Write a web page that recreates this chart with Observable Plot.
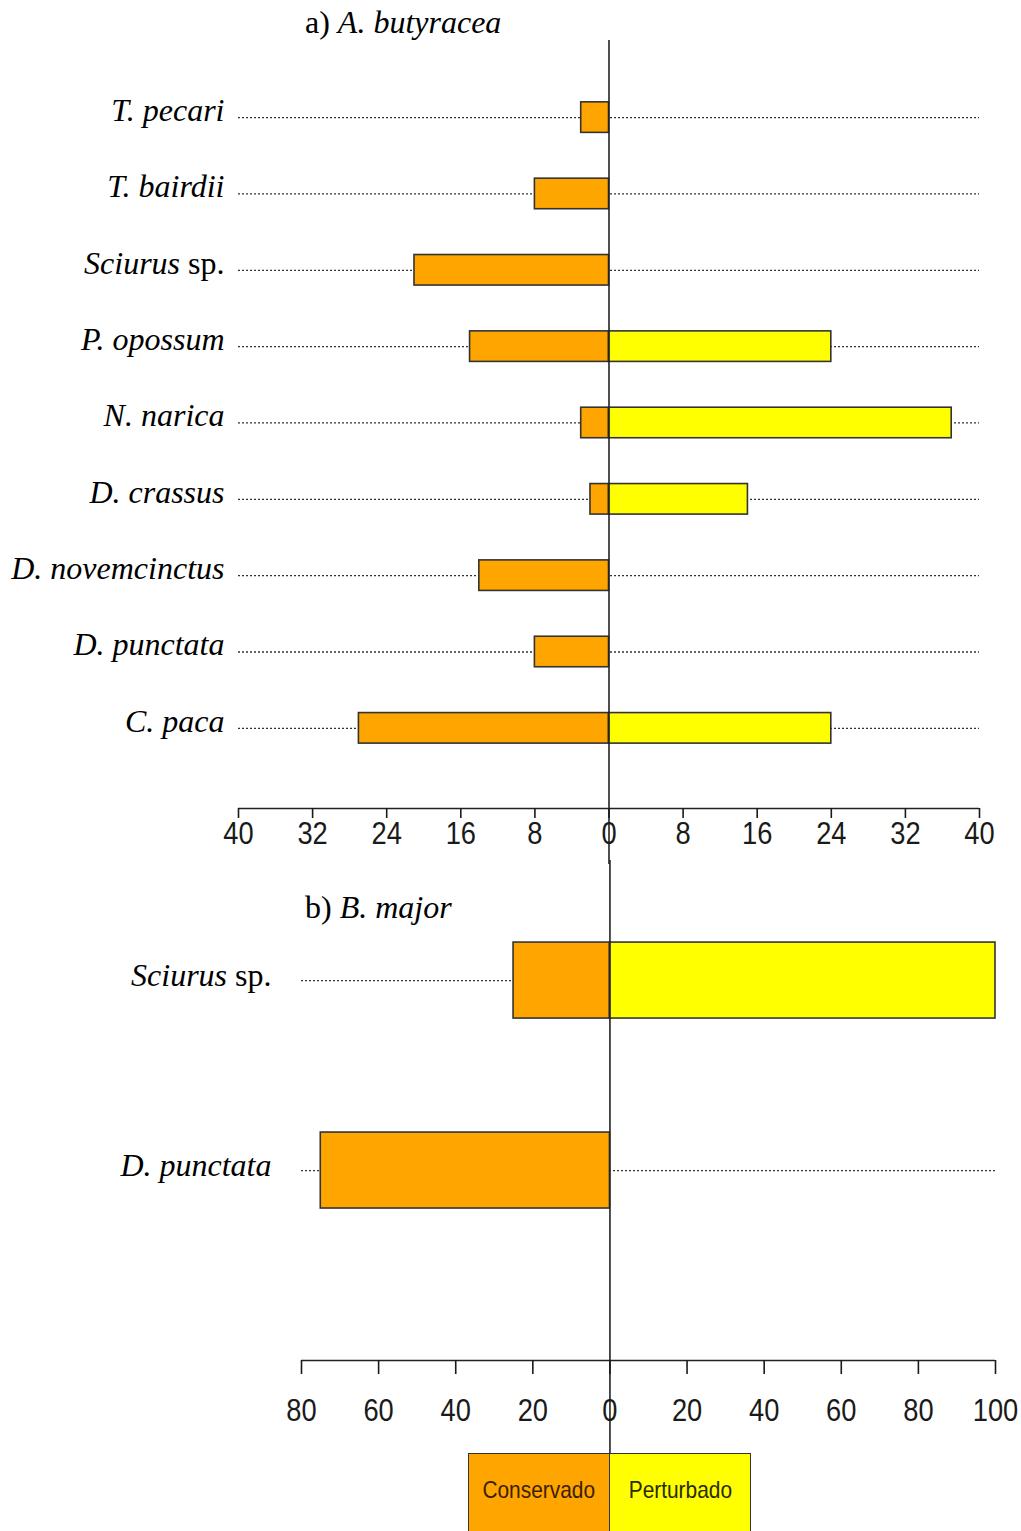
<!DOCTYPE html>
<html><head><meta charset="utf-8">
<script src="https://cdn.jsdelivr.net/npm/d3@7"></script>
<script src="https://cdn.jsdelivr.net/npm/@observablehq/plot@0.6"></script>
<style>
body{margin:0;background:#fff;overflow:hidden}
#wrap{position:relative;width:1021px;height:1531px;overflow:hidden;background:#fff}
.panel{position:absolute;left:0}
.title{position:absolute;font-family:"Liberation Serif","Times New Roman",serif;font-size:32px;line-height:32px;color:#000;white-space:nowrap}
.title i{font-style:italic}
#legend{position:absolute;left:468px;top:1453px;width:283px;height:95px;display:flex;border:1.5px solid #333;box-sizing:border-box}
#legend div{flex:1;display:flex;align-items:flex-start;justify-content:center;padding-top:24px;font-family:"Liberation Sans",Arial,sans-serif;font-size:24px;line-height:24px}
#legend div span{display:inline-block;transform:scaleX(0.87);transform-origin:center;white-space:nowrap}
#legend div+div{border-left:1.5px solid #333}
</style></head>
<body><div id="wrap"></div>
<script>
// ---- data ----
const speciesA = ["T. pecari","T. bairdii","Sciurus sp.","P. opossum","N. narica","D. crassus","D. novemcinctus","D. punctata","C. paca"];
const conservadoA = [3,8,21,15,3,2,14,8,27];
const perturbadoA = [0,0,0,24,37,15,0,0,24];
const ticksA = [-40,-32,-24,-16,-8,0,8,16,24,32,40];

const speciesB = ["Sciurus sp.","D. punctata"];
const conservadoB = [25,75];
const perturbadoB = [100,0];
const ticksB = [-80,-60,-40,-20,0,20,40,60,80,100];

const groups = ["Conservado","Perturbado"];
const groupColors = ["#FFA500","#FFFF00"];
const groupTextColors = ["#3d1e00","#2b2b05"];

const wrap = document.getElementById("wrap");
const ns = "http://www.w3.org/2000/svg";

function panel(o){
  const rows = [];
  o.species.forEach((s,i)=>{
    if (o.cons[i] > 0) rows.push({i, x1: -o.cons[i], x2: 0, g: groups[0]});
    if (o.pert[i] > 0) rows.push({i, x1: 0, x2: o.pert[i], g: groups[1]});
  });
  const idx = o.species.map((s,i)=>i);
  const xmin = o.ticks[0], xmax = o.ticks[o.ticks.length-1];
  const [d0,d1] = o.yDomain;
  const per = (d1-d0)/(o.height - o.marginTop - o.marginBottom);
  const yEnd = d0 + (o.height - o.marginTop + 4) * per;
  const svg = Plot.plot({
    width: 1021, height: o.height,
    marginTop: o.marginTop, marginBottom: o.marginBottom, marginLeft: 0, marginRight: 0,
    style: {overflow: "visible", background: "transparent"},
    x: {domain: [xmin, xmax], range: o.xRange},
    y: {domain: o.yDomain, reverse: true, axis: null},
    color: {domain: groups, range: groupColors},
    marks: [
      Plot.ruleY(idx, {y: d=>d, x1: xmin, x2: xmax, stroke: "#333", strokeWidth: 1.3, strokeDasharray: "2,2"}),
      Plot.rect(rows, {x1: "x1", x2: "x2", y1: d=>d.i-0.2, y2: d=>d.i+0.2, fill: "g", stroke: "#333", strokeWidth: 1.6}),
      Plot.ruleY([d1], {x1: xmin, x2: xmax, stroke: "#222", strokeWidth: 1.6}),
      Plot.ruleX([0], {y1: d0, y2: yEnd, stroke: "#222", strokeWidth: 1.6}),
      Plot.axisX({ticks: o.ticks, tickFormat: d=>String(Math.abs(d)), tickSize: o.tickSize, tickPadding: o.tickPadding,
        fontSize: 31, fontFamily: '"Liberation Sans",Arial,sans-serif',
        color: "#1a1a1a", strokeWidth: 1.6}),
      Plot.text(idx, {x: xmin, y: d=>d, dx: -o.labelGap, dy: o.labelDy, text: d=>o.species[d], textAnchor: "end",
        fontFamily: '"Liberation Serif","Times New Roman",serif', fontSize: 32, fontStyle: "italic", fill: "#000"})
    ]
  });
  // upright "sp." inside species names
  svg.querySelectorAll('g[aria-label="text"] text').forEach(t=>{
    const s = t.textContent;
    if (s.endsWith(" sp.")) {
      t.textContent = "";
      const a = document.createElementNS(ns,"tspan"); a.textContent = s.slice(0,-4);
      const b = document.createElementNS(ns,"tspan"); b.textContent = " sp."; b.setAttribute("font-style","normal");
      t.appendChild(a); t.appendChild(b);
    }
  });
  // condensed tick labels
  svg.querySelectorAll('g[aria-label="x-axis tick label"] text').forEach(t=>{
    const tr = t.getAttribute("transform");
    if (tr) t.setAttribute("transform", tr + " scale(0.88,1)");
    else {
      const x = +(t.getAttribute("x") || 0);
      t.setAttribute("x", x / 0.88);
      t.setAttribute("transform", "scale(0.88,1)");
    }
  });
  svg.classList.add("panel");
  svg.style.top = o.top + "px";
  svg.style.position = "absolute";
  wrap.appendChild(svg);
}

panel({species: speciesA, cons: conservadoA, pert: perturbadoA, ticks: ticksA,
  top: 0, height: 860, marginTop: 40, marginBottom: 52, yDomain: [-1.01, 9.05],
  xRange: [238, 979], labelGap: 14, labelDy: -7, tickSize: 10, tickPadding: 3});
panel({species: speciesB, cons: conservadoB, pert: perturbadoB, ticks: ticksB,
  top: 860, height: 593, marginTop: 0, marginBottom: 93, yDomain: [-0.632, 2],
  xRange: [301, 995], labelGap: 30, labelDy: -5, tickSize: 14, tickPadding: 24});

function title(top, lead, sp){
  const d = document.createElement("div");
  d.className = "title"; d.style.left = "305px"; d.style.top = top + "px";
  d.innerHTML = lead + " <i>" + sp + "</i>";
  wrap.appendChild(d);
}
title(6, "a)", "A. butyracea");
title(891, "b)", "B. major");

const lg = document.createElement("div"); lg.id = "legend";
groups.forEach((g,i)=>{
  const c = document.createElement("div");
  c.style.background = groupColors[i]; c.style.color = groupTextColors[i];
  const s = document.createElement("span"); s.textContent = g; c.appendChild(s);
  lg.appendChild(c);
});
wrap.appendChild(lg);
</script></body></html>
